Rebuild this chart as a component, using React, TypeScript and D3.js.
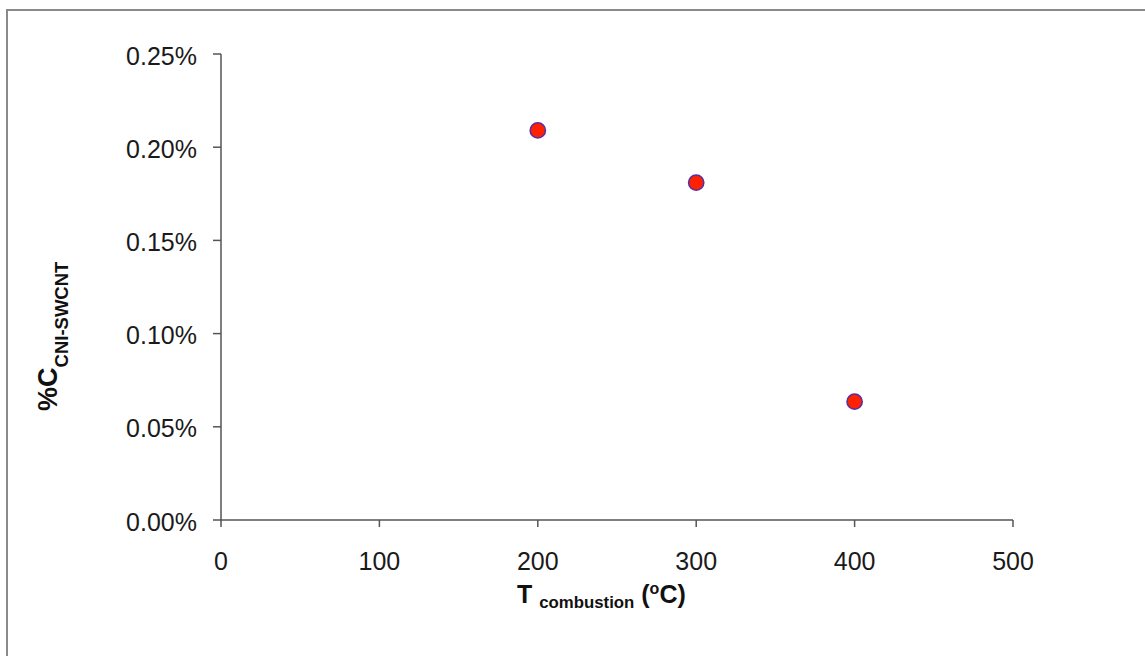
import React from "react";
import * as d3 from "d3";

const temperatures = [200, 300, 400];
const carbonFraction = [0.00209, 0.00181, 0.000635];
const xTicks = [0, 100, 200, 300, 400, 500];
const yTicks = [0, 0.0005, 0.001, 0.0015, 0.002, 0.0025];

const W = 1145;
const H = 656;
const FONT = "'Liberation Sans', Arial, Helvetica, sans-serif";

export default function App() {
  const x = d3.scaleLinear().domain([0, 500]).range([221, 1013]);
  const y = d3.scaleLinear().domain([0, 0.0025]).range([520, 54]);
  const fmt = d3.format(".2%");
  const axisColor = "#555";

  return (
    <svg
      width={W}
      height={H}
      style={{ position: "absolute", left: 0, top: 0, background: "#fff" }}
      fontFamily={FONT}
    >
      <rect x={7} y={10} width={1200} height={700} fill="#fff" stroke="#8a8a8a" strokeWidth={2} />

      {/* y axis */}
      <line x1={x(0)} x2={x(0)} y1={y(0.0025)} y2={y(0)} stroke={axisColor} strokeWidth={1.5} />
      {yTicks.map((t) => (
        <g key={"y" + t}>
          <line x1={x(0) - 8} x2={x(0)} y1={y(t)} y2={y(t)} stroke={axisColor} strokeWidth={1.5} />
          <text x={197} y={y(t)} dy={10.5} textAnchor="end" fontSize={25} fill="#1a1a1a">
            {fmt(t)}
          </text>
        </g>
      ))}

      {/* x axis */}
      <line x1={x(0) - 1} x2={x(500)} y1={y(0)} y2={y(0)} stroke={axisColor} strokeWidth={1.5} />
      {xTicks.map((t) => (
        <g key={"x" + t}>
          <line x1={x(t)} x2={x(t)} y1={y(0)} y2={y(0) + 7} stroke={axisColor} strokeWidth={1.5} />
          <text x={x(t)} y={570} textAnchor="middle" fontSize={25} fill="#1a1a1a">
            {t}
          </text>
        </g>
      ))}

      {/* x title */}
      <text x={517} y={603} fontSize={25} fontWeight="bold" fill="#111">
        T{" "}
        <tspan fontSize={16.8} dy={5}>combustion</tspan>
        <tspan dy={-5}> (</tspan>
        <tspan fontSize={16} dy={-9}>o</tspan>
        <tspan dy={9}>C)</tspan>
      </text>

      {/* y title */}
      <text transform="translate(57,411) rotate(-90)" fontSize={27} fontWeight="bold" fill="#111">
        %C
        <tspan fontSize={18.5} dy={11}>CNI-SWCNT</tspan>
      </text>

      {/* points */}
      {temperatures.map((t, i) => (
        <circle
          key={"p" + t}
          cx={x(t)}
          cy={y(carbonFraction[i])}
          r={7.6}
          fill="#ff2200"
          stroke="#5b2ea6"
          strokeWidth={1.6}
        />
      ))}
    </svg>
  );
}
